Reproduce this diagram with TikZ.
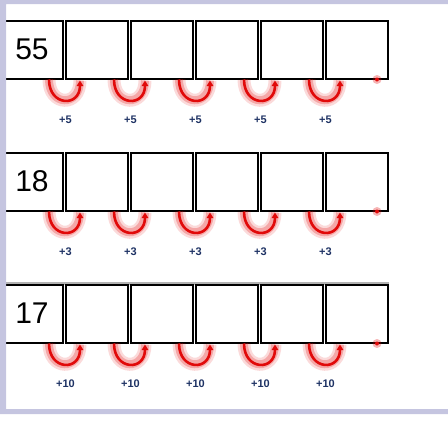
\documentclass[tikz,border=0pt]{standalone}
\usepackage{fontspec}
\setmainfont{Liberation Sans}
\usetikzlibrary{arrows.meta,positioning}

\definecolor{frame}{RGB}{197,197,224}
\definecolor{hopred}{RGB}{225,10,10}
\definecolor{stepblue}{RGB}{30,50,100}

\tikzset{
  cell/.style={draw=black,line width=2pt,minimum width=62pt,minimum height=58pt,inner sep=0pt,font=\fontsize{30}{30}\selectfont},
  hop/.style={draw=hopred,line width=2.6pt,-{Triangle[length=5.5pt,width=6.5pt]},
    preaction={draw=hopred,opacity=0.15,line width=13pt,-},
    preaction={draw=hopred,opacity=0.25,line width=8pt,-}},
  steplabel/.style={text=stepblue,font=\bfseries\fontsize{11}{11}\selectfont,inner sep=0pt}
}

\begin{document}
\begin{tikzpicture}[x=1pt,y=-1pt]
			\useasboundingbox (0,0) rectangle (448,421);
			
			% Shadow on the last row
			\fill[gray!60] (1,282) rectangle (389,285);
			
			% Boxes
			\foreach \r/\y/\start in {1/49.5/55,2/181.5/18,3/313.5/17} {
				\node[cell] (r\r b0) at (32,\y) {\start};
				\foreach \j in {1,...,5} {
					\node[cell] (r\r b\j) at (32+65*\j,\y) {};
				}
			}
			
			% Hops
			\foreach \r/\step in {1/+5,2/+3,3/+10} {
				\foreach \j [evaluate=\j as \k using int(\j+1)] in {0,...,4} {
					\draw[hop] ([xshift=-15pt]r\r b\j.south east) .. controls +(0,27) and +(0,27) .. ([xshift=15pt,yshift=-1pt]r\r b\k.south west);
					\node[steplabel] (r\r s\j) at ([xshift=1.5pt,yshift=-40pt]r\r b\j.south east) {\step};
				}
				\fill[hopred,opacity=0.3] ([xshift=-12pt]r\r b5.south east) circle (4.5pt);
				\fill[hopred] ([xshift=-12pt]r\r b5.south east) circle (2pt);
			}
			
			% Frame
			\fill[frame,even odd rule] (0,0) rectangle (448,414) (6,4) rectangle (449,409);
			
		\end{tikzpicture}
\end{document}
